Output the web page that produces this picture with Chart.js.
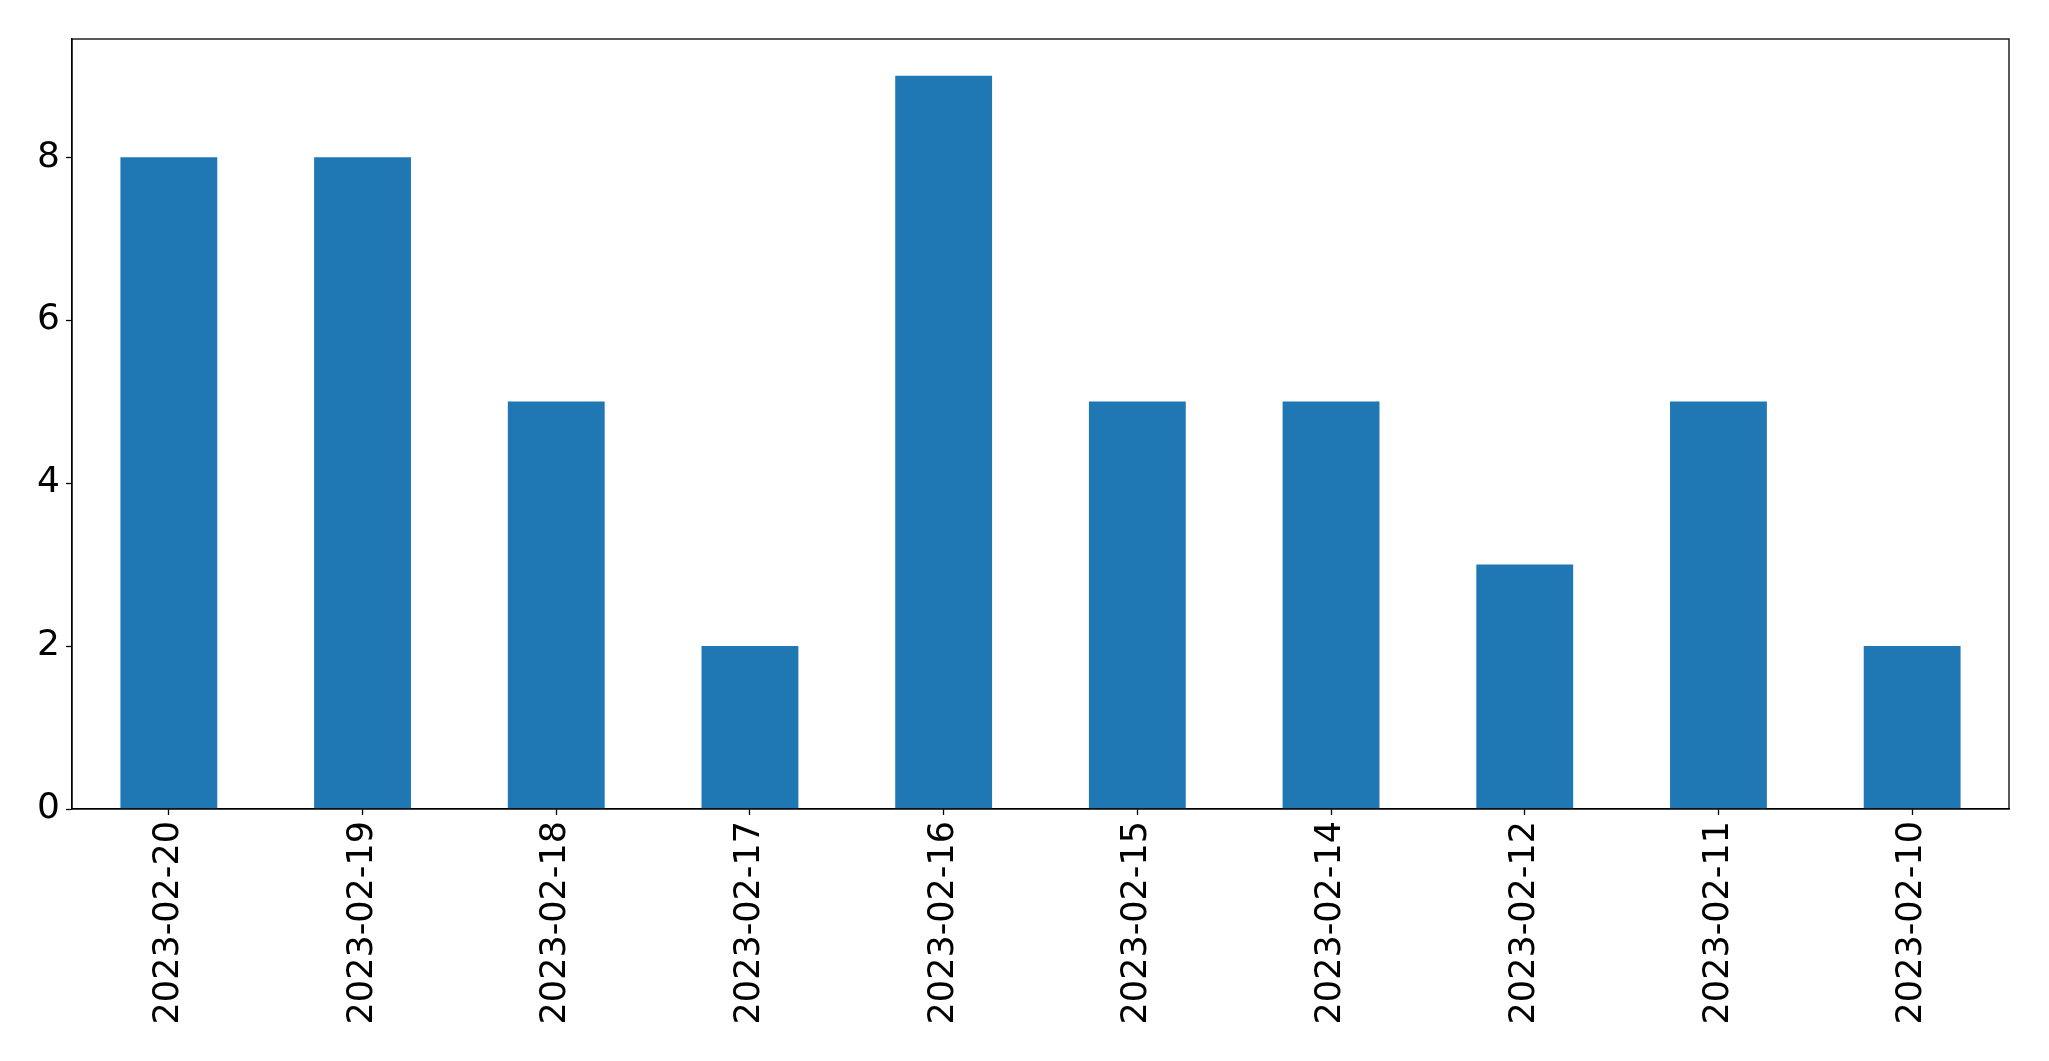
<!DOCTYPE html>
<html>
<head>
<meta charset="utf-8">
<script src="https://cdn.jsdelivr.net/npm/chart.js@4"></script>
<style>
    html, body { margin: 0; padding: 0; background: #ffffff; }
    #wrap { width: 2049px; height: 1061px; }
</style>
</head>
<body>
<div id="wrap"><canvas id="barChart" width="2049" height="1061"></canvas></div>
<script>
const dates = ['2023-02-20', '2023-02-19', '2023-02-18', '2023-02-17', '2023-02-16',
    '2023-02-15', '2023-02-14', '2023-02-12', '2023-02-11', '2023-02-10'];
const counts = [8, 8, 5, 2, 9, 5, 5, 3, 5, 2];
const yTicks = [0, 2, 4, 6, 8];

// box round the plot area, like the matplotlib frame
const frame = {
    id: 'frame',
    afterDraw(chart) {
        const a = chart.chartArea;
        const ctx = chart.ctx;
        ctx.save();
        ctx.strokeStyle = '#000';
        ctx.lineWidth = 1.3;
        ctx.strokeRect(a.left, a.top, a.right - a.left, a.bottom - a.top);
        ctx.restore();
    }
};

document.addEventListener('DOMContentLoaded', function () {
    const ctx = document.getElementById('barChart').getContext('2d');
    new Chart(ctx, {
        type: 'bar',
        data: {
            labels: dates,
            datasets: [{
                data: counts,
                backgroundColor: '#1f77b4',
                borderWidth: 0,
                categoryPercentage: 1.0,
                barPercentage: 0.5
            }]
        },
        options: {
            responsive: false,
            animation: false,
            layout: { padding: { top: 39, right: 40, left: 0, bottom: 0 } },
            plugins: {
                legend: { display: false },
                tooltip: { enabled: false }
            },
            scales: {
                x: {
                    afterFit: function (scale) { scale.height = 252; },
                    grid: { offset: false, drawOnChartArea: false, tickLength: 6, tickColor: '#000', tickWidth: 1.3 },
                    border: { color: '#000', width: 1.3 },
                    ticks: {
                        color: '#000',
                        minRotation: 90,
                        maxRotation: 90,
                        padding: 6,
                        font: { family: 'DejaVu Sans', size: 35 }
                    }
                },
                y: {
                    min: 0,
                    max: 9.45,
                    afterFit: function (scale) { scale.width = 72; },
                    afterBuildTicks: function (scale) {
                        scale.ticks = yTicks.map(v => ({ value: v }));
                    },
                    grid: { drawOnChartArea: false, tickLength: 6, tickColor: '#000', tickWidth: 1.3 },
                    border: { color: '#000', width: 1.3 },
                    ticks: {
                        color: '#000',
                        padding: 6,
                        font: { family: 'DejaVu Sans', size: 36 }
                    }
                }
            }
        },
        plugins: [frame]
    });
});
</script>
</body>
</html>
